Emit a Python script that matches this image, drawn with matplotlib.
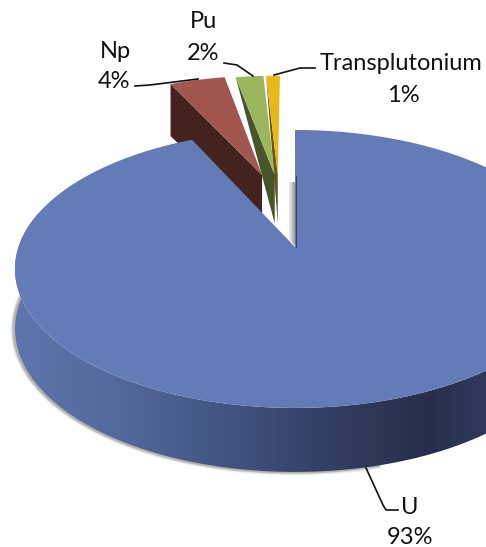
import numpy as np
import matplotlib
matplotlib.use("Agg")
import matplotlib.pyplot as plt
from matplotlib.patches import Polygon
from matplotlib.colors import LinearSegmentedColormap

# Shares of each element, in percent, clockwise from twelve o'clock
categories = ["U", "Np", "Pu", "Transplutonium"]
shares = [93, 4, 2, 1]

# Pie geometry in pixels, with a perspective tilt
CX, CY = 295.0, 247.0
A, B, K = 135.5, 276.5, 0.158
top_colors = {"U": "#637bb6", "Np": "#a2564f", "Pu": "#9bb65d", "Transplutonium": "#e8b71c"}
face_colors = {"Np": "#44221d", "Pu": "#46562a", "Transplutonium": "#6b5518"}
explode = {"Np": (-0.13, 0.58), "Pu": (-0.08, 0.58), "Transplutonium": (-0.068, 0.58)}


def project(x, y):
    w = 1 + K * y
    return CX + B * x / w, CY - A * y / w


def depth(y):
    w = 1 + K * y
    return 64 - 30.5 * (w - 0.842)


def rim(t0, t1, n=240):
    t = np.radians(np.linspace(t0, t1, n))
    return np.cos(t), np.sin(t)


fig = plt.figure(figsize=(4.86, 5.47), dpi=100)
ax = fig.add_axes([0, 0, 1, 1])
ax.set_xlim(0, 486)
ax.set_ylim(547, 0)
ax.axis("off")

# Sector limits from the shares
spans = np.array(shares) * 3.6
starts = 90 - np.concatenate([[0], np.cumsum(spans)[:-1]])
ends = starts - spans

# Soft shadow under the rim, fading out towards the front
x, y = rim(170, 285)
px, py = project(x, y)
bottom_y = py + depth(y)
for lw, alpha in [(4.5, 0.10), (3, 0.16), (1.8, 0.28)]:
    ax.plot(px - 1.2, bottom_y + 0.3, color="#5c5a50", lw=lw, alpha=alpha, zorder=1)

# Curved wall with a horizontal shade
x, y = rim(165, 375)
px, py = project(x, y)
bottom_y = py + depth(y)
wall_cmap = LinearSegmentedColormap.from_list(
    "wall",
    [(0.0, "#5d75ad"), (0.18, "#566c9f"), (0.39, "#465a88"), (0.6, "#36456d"),
     (0.82, "#29324f"), (0.88, "#262e4b"), (1.0, "#2e3a5c")],
)
wall = Polygon(np.r_[np.c_[px, py], np.c_[px, bottom_y][::-1]], closed=True,
               facecolor="none", edgecolor="none", zorder=2)
ax.add_patch(wall)
img = ax.imshow(np.linspace(0, 1, 486)[None, :], extent=(15, 486, 547, 0), cmap=wall_cmap,
                aspect="auto", zorder=2)
img.set_clip_path(wall)

# Pulled-out slices, drawn from the smallest share so Np sits in front
for i in range(len(categories) - 1, 0, -1):
    name = categories[i]
    ox, oy = explode[name]
    x, y = rim(starts[i], ends[i], 30)
    ex, ey = x + ox, y + oy
    apex = project(ox, oy)
    outer_x, outer_y = project(ex[0], ey[0])
    apex_low = (apex[0], apex[1] + depth(oy) - 8)
    if name == "Np":
        face = [(outer_x, outer_y), apex, apex_low, (outer_x, outer_y + depth(ey[0]))]
    else:
        face = [(outer_x, outer_y), apex, apex_low]
    ax.add_patch(Polygon(face, closed=True, facecolor=face_colors[name], edgecolor="none", zorder=3))
    sx, sy = project(ex, ey)
    ax.add_patch(Polygon(np.r_[[apex], np.c_[sx, sy]], closed=True,
                         facecolor=top_colors[name], edgecolor="none", zorder=4))

# Inner wall of the large slice beside the gap
notch = Polygon([(288, 182), (296, 182), (296, 247), (288, 238)], closed=True,
                facecolor="none", edgecolor="none", zorder=5)
ax.add_patch(notch)
shade = ax.imshow(np.linspace(0, 1, 32)[None, :], extent=(288, 296, 247, 182),
                  cmap=LinearSegmentedColormap.from_list("inner", ["#ffffff", "#8f8f8f"]),
                  aspect="auto", zorder=5)
shade.set_clip_path(notch)
ax.set_xlim(0, 486)
ax.set_ylim(547, 0)

# Top of the large slice
x, y = rim(starts[0], ends[0], 720)
sx, sy = project(x, y)
ax.add_patch(Polygon(np.r_[[(CX, CY)], np.c_[sx, sy]], closed=True,
                     facecolor=top_colors["U"], edgecolor="none", zorder=6))
ax.plot([CX + 1, CX + 1], [176, CY], color="#3d4a6a", lw=0.8, zorder=7)

# Leader lines
leaders = [
    ([135, 150, 198], [86, 85, 79]),
    ([224, 237, 253], [63, 65, 76]),
    ([315, 300, 274], [68, 68, 75]),
    ([366, 383, 386, 398], [468, 505, 510, 510]),
]
for lx, ly in leaders:
    ax.plot(lx, ly, color="#111111", lw=1.2, zorder=8, solid_joinstyle="round")

# Labels: name above, share below
label_pos = {
    "Np": ((115, 51), (114, 81)),
    "Pu": ((203, 22), (203, 54)),
    "Transplutonium": ((401, 63), (403, 95)),
    "U": ((410, 508), (410, 538)),
}
for name, share in zip(categories, shares):
    (nx, ny), (vx, vy) = label_pos[name]
    ax.text(nx, ny, name, ha="center", va="center", fontsize=17, family="Lato", color="#111111", zorder=9)
    ax.text(vx, vy, f"{share}%", ha="center", va="center", fontsize=17, family="Lato", color="#111111", zorder=9)

fig.savefig("out.png", dpi=100, facecolor="white")
